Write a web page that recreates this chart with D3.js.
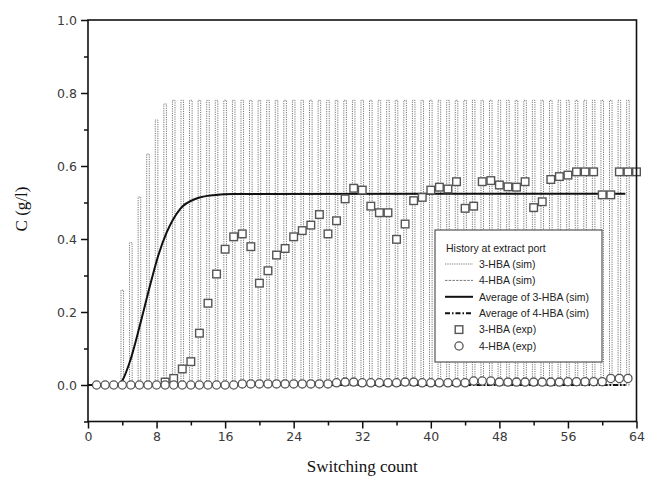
<!DOCTYPE html>
<html>
<head>
<meta charset="utf-8">
<script src="https://cdn.jsdelivr.net/npm/d3@7"></script>
<style>
  html, body { margin: 0; padding: 0; background: #fff; }
  svg { display: block; }
</style>
</head>
<body>
<svg id="chart" width="645" height="482"></svg>
<script>
// Switching counts at which the simulated extract history shows a peak
const simCounts = [4,5,6,7,8,9,10,11,12,13,14,15,16,17,18,19,20,21,22,23,24,25,26,27,28,29,30,31,32,33,
  34,35,36,37,38,39,40,41,42,43,44,45,46,47,48,49,50,51,52,53,54,55,56,57,58,59,60,61,62,63];
// Peak concentration of 3-HBA (sim) within each switching period (g/l)
const sim3Peak = [0.26,0.39,0.515,0.633,0.726,0.77,0.78,0.78,0.78,0.78,0.78,0.78,0.78,0.78,0.78,0.78,0.78,0.78,0.78,0.78,
  0.78,0.78,0.78,0.78,0.78,0.78,0.78,0.78,0.78,0.78,0.78,0.78,0.78,0.78,0.78,0.78,0.78,0.78,0.78,0.78,
  0.78,0.78,0.78,0.78,0.78,0.78,0.78,0.78,0.78,0.78,0.78,0.78,0.78,0.78,0.78,0.78,0.78,0.78,0.78,0.78];
// Peak concentration of 4-HBA (sim) within each switching period (g/l)
const sim4Peak = [0,0,0,0,0,0,0,0,0,0,0,0,0,0,0,0,0,0,0,0,0,0,0,0,0,0,0,0,0,0,
  0,0,0,0,0,0,0,0,0,0,0,0,0,0,0,0,0,0,0,0,0,0,0,0,0,0,0,0,0,0];

// Period-averaged 3-HBA (sim)
const avg3X = [0, 3.5, 4.0, 4.9, 6.07, 7.23, 8.2, 9.18, 10.74, 12.68, 14.6, 17, 62.7];
const avg3Y = [0, 0, 0.012, 0.065, 0.165, 0.272, 0.355, 0.418, 0.482, 0.511, 0.52, 0.523, 0.524];
// Period-averaged 4-HBA (sim)
const avg4X = [0, 62.7];
const avg4Y = [0, 0];

// Measured 3-HBA (exp)
const exp3X = [9,10,11,12,13,14,15,16,17,18,19,20,21,22,23,24,25,26,27,28,29,30,31,32,33,34,35,36,
  37,38,39,40,41,42,43,44,45,46,47,48,49,50,51,52,53,54,55,56,57,58,59,60,61,62,63,64];
const exp3Y = [0.008,0.018,0.044,0.064,0.142,0.224,0.304,0.372,0.406,0.414,0.379,0.279,0.313,0.356,0.374,0.406,
  0.423,0.438,0.467,0.414,0.45,0.51,0.539,0.534,0.49,0.472,0.472,0.399,0.441,0.505,0.514,0.534,0.542,0.537,
  0.557,0.484,0.49,0.557,0.56,0.548,0.543,0.542,0.557,0.486,0.502,0.563,0.571,0.575,0.584,0.584,0.584,
  0.521,0.521,0.584,0.584,0.584];
// Measured 4-HBA (exp)
const exp4X = [1,2,3,4,5,6,7,8,9,10,11,12,13,14,15,16,17,18,19,20,21,22,23,24,25,26,27,28,29,30,31,32,
  33,34,35,36,37,38,39,40,41,42,43,44,45,46,47,48,49,50,51,52,53,54,55,56,57,58,59,60,61,62,63];
const exp4Y = [0,0,0,0,0,0,0,0,0,0,0,0,0,0,0,0,0,0.003,0.003,0.003,0.003,0.003,0.003,0.003,0.003,0.003,0.003,0.003,
  0.006,0.008,0.008,0.006,0.006,0.006,0.006,0.006,0.008,0.008,0.006,0.006,0.006,0.006,0.006,0.006,0.011,0.011,0.011,
  0.008,0.008,0.008,0.008,0.008,0.008,0.008,0.008,0.009,0.009,0.009,0.009,0.009,0.018,0.018,0.018];

// Axis ticks
const xMajor = [0, 8, 16, 24, 32, 40, 48, 56, 64];
const xMinor = [4, 12, 20, 28, 36, 44, 52, 60];
const yMajor = [0.0, 0.2, 0.4, 0.6, 0.8, 1.0];
const yMinor = [-0.1, 0.1, 0.3, 0.5, 0.7, 0.9];

const legendItems = [
  { label: "3-HBA (sim)", kind: "sim3" },
  { label: "4-HBA (sim)", kind: "sim4" },
  { label: "Average of 3-HBA (sim)", kind: "avg3" },
  { label: "Average of 4-HBA (sim)", kind: "avg4" },
  { label: "3-HBA (exp)", kind: "exp3" },
  { label: "4-HBA (exp)", kind: "exp4" }
];

const svg = d3.select("#chart");
const x = d3.scaleLinear().domain([0, 64]).range([88, 636.5]);
const y = d3.scaleLinear().domain([-0.1, 1.0]).range([421.5, 20]);

const tickFont = "'DejaVu Sans', sans-serif";
const serif = "'Liberation Serif', 'Times New Roman', serif";
const sans = "'Liberation Sans', Arial, sans-serif";
const simColor = "#777";

// Step-wise simulated history: a narrow pulse in every switching period
function pulsePoints(counts, peaks) {
  const pts = [[0, 0]];
  counts.forEach((c, i) => {
    pts.push([c - 0.15, 0], [c - 0.15, peaks[i]], [c + 0.15, peaks[i]], [c + 0.15, 0]);
  });
  return pts;
}
const line = d3.line().x(d => x(d[0])).y(d => y(d[1]));

const plot = svg.append("g");

plot.append("path")
  .attr("d", line(pulsePoints(simCounts, sim4Peak)))
  .attr("fill", "none").attr("stroke", simColor).attr("stroke-width", 1)
  .attr("stroke-dasharray", "2.5,1.2");

plot.append("path")
  .attr("d", line(pulsePoints(simCounts, sim3Peak)))
  .attr("fill", "none").attr("stroke", simColor).attr("stroke-width", 1)
  .attr("stroke-dasharray", "1.2,1.1");

const smooth = d3.line().x(d => x(d[0])).y(d => y(d[1])).curve(d3.curveMonotoneX);
plot.append("path")
  .attr("d", smooth(avg3X.map((v, i) => [v, avg3Y[i]])))
  .attr("fill", "none").attr("stroke", "#111").attr("stroke-width", 2);
plot.append("path")
  .attr("d", line(avg4X.map((v, i) => [v, avg4Y[i]])))
  .attr("fill", "none").attr("stroke", "#111").attr("stroke-width", 2)
  .attr("stroke-dasharray", "5,2,1.5,2");

plot.append("g").selectAll("rect")
  .data(exp3X.map((v, i) => [v, exp3Y[i]]))
  .join("rect")
  .attr("x", d => x(d[0]) - 3.8).attr("y", d => y(d[1]) - 3.8)
  .attr("width", 7.6).attr("height", 7.6)
  .attr("fill", "#fff").attr("stroke", "#555").attr("stroke-width", 1.4);

plot.append("g").selectAll("circle")
  .data(exp4X.map((v, i) => [v, exp4Y[i]]))
  .join("circle")
  .attr("cx", d => x(d[0])).attr("cy", d => y(d[1])).attr("r", 4.1)
  .attr("fill", "#fff").attr("stroke", "#555").attr("stroke-width", 1.3);

// Plot frame
svg.append("rect")
  .attr("x", x(0)).attr("y", y(1.0))
  .attr("width", x(64) - x(0)).attr("height", y(-0.1) - y(1.0))
  .attr("fill", "none").attr("stroke", "#111").attr("stroke-width", 1.6);

// Axes
function styleAxis(g) {
  g.select(".domain").remove();
  g.selectAll(".tick line").attr("stroke", "#111").attr("stroke-width", 1.5);
  g.selectAll(".tick text").attr("fill", "#3a3a3a").style("font-family", tickFont).style("font-size", "12.5px");
}
svg.append("g").attr("transform", `translate(0,${y(-0.1)})`)
  .call(d3.axisBottom(x).tickValues(xMajor).tickSize(7).tickPadding(4).tickFormat(d3.format("d")))
  .call(styleAxis);
svg.append("g").attr("transform", `translate(0,${y(-0.1)})`)
  .call(d3.axisBottom(x).tickValues(xMinor).tickSize(4).tickFormat(""))
  .call(styleAxis);
svg.append("g").attr("transform", `translate(${x(0)},0)`)
  .call(d3.axisLeft(y).tickValues(yMajor).tickSize(7).tickPadding(4).tickFormat(d3.format(".1f")))
  .call(styleAxis);
svg.append("g").attr("transform", `translate(${x(0)},0)`)
  .call(d3.axisLeft(y).tickValues(yMinor).tickSize(4).tickFormat(""))
  .call(styleAxis);

// Axis titles
svg.append("text")
  .attr("x", (x(0) + x(64)) / 2).attr("y", 472)
  .attr("text-anchor", "middle")
  .style("font-family", serif).style("font-size", "17px").attr("fill", "#111")
  .text("Switching count");
svg.append("text")
  .attr("transform", "translate(27,209) rotate(-90)")
  .attr("text-anchor", "middle")
  .style("font-family", serif).style("font-size", "17px").attr("fill", "#111")
  .text("C (g/l)");

// Legend
const lg = svg.append("g");
lg.append("rect").attr("x", 435).attr("y", 230).attr("width", 167).attr("height", 132)
  .attr("fill", "#fff").attr("stroke", "#555").attr("stroke-width", 1.2);
lg.append("text").attr("x", 446).attr("y", 252)
  .style("font-family", sans).style("font-size", "10.5px").attr("fill", "#222")
  .text("History at extract port");
legendItems.forEach((it, i) => {
  const cy = 264 + i * 16.4;
  const g = lg.append("g");
  if (it.kind === "sim3" || it.kind === "sim4" || it.kind === "avg3" || it.kind === "avg4") {
    const ln = g.append("line").attr("x1", 445).attr("x2", 473).attr("y1", cy).attr("y2", cy);
    if (it.kind === "sim3") ln.attr("stroke", simColor).attr("stroke-width", 1).attr("stroke-dasharray", "1.2,1.1");
    if (it.kind === "sim4") ln.attr("stroke", simColor).attr("stroke-width", 1).attr("stroke-dasharray", "2.5,1.2");
    if (it.kind === "avg3") ln.attr("stroke", "#111").attr("stroke-width", 2);
    if (it.kind === "avg4") ln.attr("stroke", "#111").attr("stroke-width", 2).attr("stroke-dasharray", "5,2,1.5,2");
  } else if (it.kind === "exp3") {
    g.append("rect").attr("x", 459 - 3.8).attr("y", cy - 3.8).attr("width", 7.6).attr("height", 7.6)
      .attr("fill", "#fff").attr("stroke", "#555").attr("stroke-width", 1.4);
  } else {
    g.append("circle").attr("cx", 459).attr("cy", cy).attr("r", 4.1)
      .attr("fill", "#fff").attr("stroke", "#555").attr("stroke-width", 1.3);
  }
  g.append("text").attr("x", 479).attr("y", cy + 3.7)
    .style("font-family", sans).style("font-size", "10.5px").attr("fill", "#222")
    .text(it.label);
});
</script>
</body>
</html>
